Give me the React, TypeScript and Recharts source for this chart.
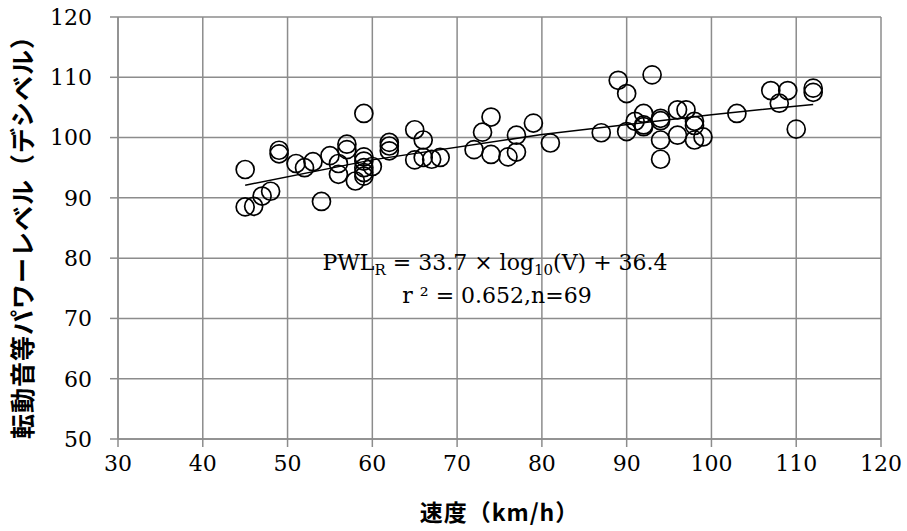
import React from 'react';
import { ScatterChart, Scatter, XAxis, YAxis, CartesianGrid, Label } from 'recharts';

const speeds = [45, 45, 46, 47, 48, 49, 49, 51, 52, 53, 54, 55, 56, 56, 57, 57, 58, 59, 59, 59, 59, 59, 60, 62, 62, 62, 65, 66, 65, 66, 67, 68, 72, 73, 74, 74, 76, 77, 77, 79, 81, 87, 89, 90, 90, 91, 92, 92, 92, 93, 94, 94, 94, 94, 96, 96, 97, 98, 98, 98, 99, 103, 107, 109, 108, 110, 112, 112, 59];
const levels = [94.7, 88.5, 88.6, 90.3, 91.1, 97.9, 97.3, 95.7, 95.0, 96.0, 89.4, 97.0, 95.7, 93.9, 98.9, 98.0, 92.8, 104.0, 96.1, 95.0, 94.2, 93.6, 95.2, 99.2, 98.6, 97.8, 101.3, 99.6, 96.3, 96.7, 96.4, 96.7, 98.0, 100.9, 103.4, 97.2, 96.8, 100.4, 97.6, 102.4, 99.1, 100.8, 109.5, 107.3, 101.0, 102.7, 104.0, 102.1, 101.8, 110.4, 103.2, 102.8, 99.6, 96.4, 104.6, 100.4, 104.6, 102.7, 102.0, 99.6, 100.1, 104.0, 107.8, 107.8, 105.7, 101.4, 108.2, 107.5, 96.8];

const trendSpeeds = [45, 60, 80, 100, 112];
const trendLevels = [92.1, 96.3, 100.5, 103.8, 105.5];

const xTicks = [30, 40, 50, 60, 70, 80, 90, 100, 110, 120];
const yTicks = [50, 60, 70, 80, 90, 100, 110, 120];

const xTitle = '速度（km/h）';
const yTitle = '転動音等パワーレベル（デシベル）';

const points = speeds.map((v, i) => ({ x: v, y: levels[i] }));
const trend = trendSpeeds.map((v, i) => ({ x: v, y: trendLevels[i] }));

const Ring = (props: any) => (
  <circle cx={props.cx} cy={props.cy} r={9} fill="none" stroke="#000" strokeWidth={1.7} />
);
const Nothing = () => <g />;

const tickStyle = { fontFamily: '"DejaVu Serif", serif', fontSize: 22, fill: '#000' };
const gray = '#8c8c8c';

export default function App() {
  return (
    <div style={{ position: 'absolute', left: 0, top: 0, width: 907, height: 531, background: '#fff' }}>
      <ScatterChart width={907} height={531} margin={{ top: 17, right: 26, bottom: 0, left: 0 }}>
        <CartesianGrid stroke={gray} strokeWidth={1.5} />
        <XAxis
          type="number"
          dataKey="x"
          domain={[30, 120]}
          ticks={xTicks}
          interval={0}
          height={92}
          tickSize={8}
          tickMargin={8}
          tick={tickStyle}
          stroke={gray}
          axisLine={{ stroke: gray, strokeWidth: 1.5 }}
          tickLine={{ stroke: gray, strokeWidth: 1.5 }}
        >
          <Label
            content={(p: any) => {
              const vb = p.viewBox;
              return (
                <text
                  x={vb.x + vb.width / 2}
                  y={521}
                  textAnchor="middle"
                  style={{ fontFamily: '"Noto Sans CJK JP", sans-serif', fontWeight: 700, fontSize: 23, fill: '#000', letterSpacing: 1 }}
                >
                  {xTitle}
                </text>
              );
            }}
          />
        </XAxis>
        <YAxis
          type="number"
          dataKey="y"
          domain={[50, 120]}
          ticks={yTicks}
          interval={0}
          width={118}
          tickSize={8}
          tickMargin={18}
          tick={tickStyle}
          stroke={gray}
          axisLine={{ stroke: gray, strokeWidth: 1.5 }}
          tickLine={{ stroke: gray, strokeWidth: 1.5 }}
        >
          <Label
            content={(p: any) => {
              const vb = p.viewBox;
              const cy = vb.y + vb.height / 2 + 3;
              return (
                <text
                  x={21}
                  y={cy}
                  transform={`rotate(-90, 21, ${cy})`}
                  textAnchor="middle"
                  dominantBaseline="central"
                  style={{ fontFamily: '"Noto Sans CJK JP", sans-serif', fontWeight: 700, fontSize: 25, fill: '#000', letterSpacing: 1 }}
                >
                  {yTitle}
                </text>
              );
            }}
          />
        </YAxis>
        <Scatter data={points} shape={Ring} isAnimationActive={false} />
        <Scatter data={trend} shape={Nothing} line={{ stroke: '#000', strokeWidth: 1.5 }} lineType="joint" isAnimationActive={false} />
      </ScatterChart>
      <svg width={907} height={531} style={{ position: 'absolute', left: 0, top: 0, pointerEvents: 'none' }}>
        <text x={495} y={270} textAnchor="middle" style={{ fontFamily: '"DejaVu Serif", serif', fontSize: 22, fill: '#000' }}>
          PWL<tspan dy={5} fontSize={15}>R</tspan>
          <tspan dy={-5}> = 33.7 × log</tspan>
          <tspan dy={5} fontSize={15}>10</tspan>
          <tspan dy={-5}>(V) + 36.4</tspan>
        </text>
        <text x={497} y={303} textAnchor="middle" style={{ fontFamily: '"DejaVu Serif", serif', fontSize: 22, fill: '#000' }}>
          r ² = 0.652,n=69
        </text>
      </svg>
    </div>
  );
}
